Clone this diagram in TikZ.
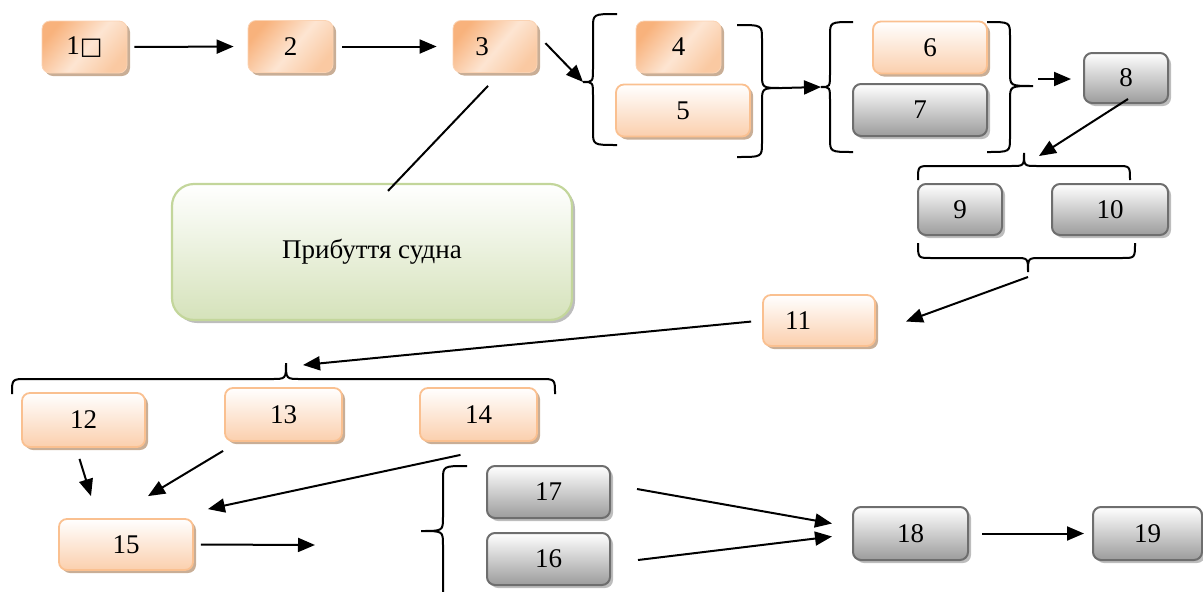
\documentclass[tikz,border=0pt]{standalone}
\usepackage{fontspec}
\setmainfont{Liberation Serif}
\newfontfamily\symfont{DejaVu Sans}
\usetikzlibrary{arrows.meta,calc,shadows}

\definecolor{orA}{HTML}{F8B27C}
\definecolor{orB}{HTML}{FDE5D2}
\definecolor{orC}{HTML}{FAC9A2}
\definecolor{orEdge}{HTML}{FBD3B3}
\definecolor{orLine}{HTML}{FAC090}
\definecolor{orBot}{HTML}{FBCFAD}
\definecolor{grLine}{HTML}{6E6E6E}
\definecolor{grBot}{HTML}{9C9C9C}
\definecolor{gnLine}{HTML}{C3D69B}
\definecolor{gnBot}{HTML}{D5E2BA}
\definecolor{shOr}{HTML}{C9AE96}
\definecolor{shGr}{HTML}{BDBDBD}

\pgfdeclarehorizontalshading{orangediag}{100bp}{color(0bp)=(orA); color(25bp)=(orA); color(52bp)=(orB); color(75bp)=(orC); color(100bp)=(orC)}

% two-sided curly braces: ends, spine, tip
\newcommand\vbrc[7]{% end x, spine x, tip x, top y, tip y, bottom y, radius
  \draw[brc] (#1,#4) .. controls (#2,#4) .. (#2,#4+#7) -- (#2,#5-#7)
    .. controls (#2,#5) .. (#3,#5) .. controls (#2,#5) .. (#2,#5+#7)
    -- (#2,#6-#7) .. controls (#2,#6) .. (#1,#6);}
\newcommand\hbrc[7]{% end y, spine y, tip y, left x, tip x, right x, radius
  \draw[brc] (#4,#1) .. controls (#4,#2) .. (#4+#7,#2) -- (#5-#7,#2)
    .. controls (#5,#2) .. (#5,#3) .. controls (#5,#2) .. (#5+#7,#2)
    -- (#6-#7,#2) .. controls (#6,#2) .. (#6,#1);}

\begin{document}
\begin{tikzpicture}[x=1pt,y=-1pt,
  box/.style={rounded corners=8pt, minimum height=52pt, inner sep=0pt,
    font=\fontsize{27}{32}\selectfont},
  obox/.style={box, draw=orEdge, line width=0.8pt, shade, shading=orangediag,
    shading angle=-40,
    drop shadow={shadow xshift=3pt, shadow yshift=-3pt, fill=shOr, opacity=1}},
  lobox/.style={box, draw=orLine, line width=1.8pt, top color=white, bottom color=orBot,
    drop shadow={shadow xshift=3pt, shadow yshift=-3pt, fill=shOr, opacity=1}},
  gbox/.style={box, draw=grLine, line width=2pt, top color=white, bottom color=grBot,
    drop shadow={shadow xshift=3pt, shadow yshift=-3pt, fill=shGr, opacity=1}},
  gnbox/.style={box, rounded corners=22pt, draw=gnLine, line width=2.2pt,
    top color=white, bottom color=gnBot,
    drop shadow={shadow xshift=3pt, shadow yshift=-3pt, fill=shGr, opacity=1}},
  arr/.style={line width=2pt, -{Triangle[length=17pt,width=14pt]}},
  brc/.style={line width=2pt},
  lab/.style={font=\fontsize{27}{32}\selectfont}
]
\useasboundingbox (0,0) rectangle (1203,592);

% first row
\node[obox, minimum width=85pt] (b1) at (84.5,47) {1{\symfont\fontsize{24}{26}\selectfont □}};
\node[obox, minimum width=85pt] (b2) at (290.5,46.5) {2};
\node[obox, minimum width=84pt, label={[lab,xshift=-13pt]center:3}] (b3) at (495,46.5) {};
\node[obox, minimum width=85pt] (b4) at (678.5,47) {4};
\node[lobox, minimum width=134pt] (b5) at (683,110.5) {5};
\node[lobox, minimum width=114pt] (b6) at (930,47.5) {6};
\node[gbox, minimum width=134pt] (b7) at (920,110) {7};
\node[gbox, minimum width=84pt, minimum height=50pt] (b8) at (1126,78) {8};
\node[gbox, minimum width=84pt, minimum height=51pt] (b9) at (960,209.5) {9};
\node[gbox, minimum width=116pt, minimum height=51pt] (b10) at (1110,209.5) {10};
\node[lobox, minimum width=112pt, minimum height=51pt, label={[lab,xshift=-21pt]center:11}] (b11) at (819,320.5) {};

% central event
\node[gnbox, minimum width=400pt, minimum height=136pt] (gr) at (372,252) {Прибуття судна};

% lower part
\node[lobox, minimum width=123pt, minimum height=54pt] (b12) at (83.5,420) {12};
\node[lobox, minimum width=117pt, minimum height=53pt] (b13) at (283.5,414.5) {13};
\node[lobox, minimum width=117pt, minimum height=53pt] (b14) at (478.5,414.5) {14};
\node[lobox, minimum width=134pt, minimum height=51pt] (b15) at (126,544.5) {15};
\node[gbox, minimum width=123pt] (b17) at (548.5,492) {17};
\node[gbox, minimum width=123pt] (b16) at (548.5,559) {16};
\node[gbox, minimum width=115pt, minimum height=53pt] (b18) at (910.5,533.5) {18};
\node[gbox, minimum width=109pt, minimum height=53pt] (b19) at (1147.5,533.5) {19};

% braces
\vbrc{617}{593}{583}{14}{82}{145}{14}
\vbrc{737}{762}{782}{25}{88}{157}{14}
\vbrc{853}{830}{821}{22}{87}{152}{14}
\vbrc{987}{1010}{1033}{22}{86}{152}{14}
\hbrc{180}{166}{153}{918}{1024}{1130}{13}
\hbrc{243}{258}{272}{918}{1028}{1135}{13}
\hbrc{394}{379}{363}{12}{286}{555}{15}
\vbrc{467}{443}{421}{466}{531}{600}{14}

\coordinate (t45l) at (583,82);
\coordinate (t45r) at (782,88);
\coordinate (t67l) at (821,87);
\coordinate (t67r) at (1033,86);
\coordinate (t910t) at (1024,153);
\coordinate (t910b) at (1028,272);
\coordinate (t1214) at (286,363);
\coordinate (e15) at (315,545);

% connectors
\draw[arr, shorten <=7pt, shorten >=14pt] (b1.east) -- (b2.west);
\draw[arr, shorten <=9pt, shorten >=16pt] (b2.east) -- (b3.west);
\draw[arr] ($(b3.north east)+(8,23)$) -- (t45l);
\draw[line width=2pt] ($(b3.south)+(-7,13)$) -- ($(gr.north)+(16,8)$);
\draw[arr] (t45r) -- (t67l);
\draw[arr, shorten >=12pt] ($(t67r)+(5,-7)$) -- ($(b8.west)+(0,1)$);
\draw[arr] ($(b8.south)+(2,-5)$) -- ($(t910t)+(15,3)$);
\draw[arr] ($(t910b)+(0,5)$) -- ($(b11.east)+(30,1)$);
\draw[arr, shorten <=11pt] (b11.west) -- ($(t1214)+(17,2)$);
\draw[arr] ($(b12.south)+(-4,11)$) -- ($(b15.north)+(-35,-22)$);
\draw[arr] ($(b13.south west)+(-1,9)$) -- ($(b15.north)+(22,-22)$);
\draw[arr] ($(b14.south)+(-18,13)$) -- ($(b15.north east)+(14,-9)$);
\draw[arr, shorten <=7pt] (b15.east) -- (e15);
\draw[arr] ($(b17.east)+(26,-3)$) -- ($(b18.west)+(-20,-10)$);
\draw[arr] ($(b16.east)+(27,1)$) -- ($(b18.west)+(-20,3)$);
\draw[arr, shorten <=13pt, shorten >=8pt] (b18.east) -- (b19.west);
\end{tikzpicture}
\end{document}
